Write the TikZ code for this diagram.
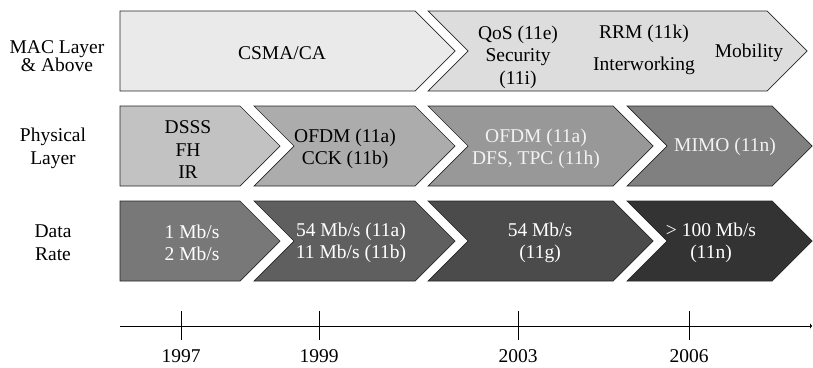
\documentclass[tikz,border=0pt]{standalone}
\usepackage{fontspec}
\setmainfont{Liberation Serif}
\usepackage{tikz}
\usetikzlibrary{arrows.meta}
\definecolor{macA}{RGB}{234,234,234}
\definecolor{macB}{RGB}{221,221,221}
\definecolor{phyA}{RGB}{194,194,194}
\definecolor{phyB}{RGB}{172,172,172}
\definecolor{phyC}{RGB}{152,152,152}
\definecolor{phyD}{RGB}{128,128,128}
\definecolor{rateA}{RGB}{120,120,120}
\definecolor{rateB}{RGB}{95,95,95}
\definecolor{rateC}{RGB}{75,75,75}
\definecolor{rateD}{RGB}{51,51,51}
\definecolor{paletext}{RGB}{242,242,242}

\begin{document}
\begin{tikzpicture}[
      x=1pt, y=-1pt,
      chev/.style={draw=black!85, line width=0.7pt, line join=miter},
      rowlabel/.style={align=center, inner sep=0pt, font=\fontsize{19.5}{23}\selectfont},
      chevtext/.style={align=center, inner sep=0pt, font=\fontsize{19.5}{22.5}\selectfont},
      year/.style={inner sep=0pt, font=\fontsize{19.5}{22}\selectfont},
      axis/.style={line width=0.7pt, black}
    ]
      \useasboundingbox (0,0) rectangle (813,367);

      % MAC layer row
      \node[rowlabel, font=\fontsize{19.5}{18.5}\selectfont] (maclbl) at (57,56) {MAC Layer\\\& Above};
      \draw[chev, fill=macA] (120,11) -- (415,11) -- (455,51) -- (415,91) -- (120,91) -- cycle;
      \draw[chev, fill=macB] (428,11) -- (767,11) -- (807,51) -- (767,91) -- (428,91) -- (468,51) -- cycle;
      \node[chevtext] (csma) at (282,53) {CSMA/CA};
      \node[chevtext] (qos) at (518,57) {QoS (11e)\\Security\\(11i)};
      \node[chevtext] (rrm) at (644,50) {RRM (11k)\\[9pt]Interworking};
      \node[chevtext] (mobility) at (749,53) {Mobility};

      % physical layer row
      \node[rowlabel] (phylbl) at (53,148) {Physical\\Layer};
      \draw[chev, fill=phyA] (120,106) -- (240,106) -- (280,146) -- (240,186) -- (120,186) -- cycle;
      \draw[chev, fill=phyB] (254,106) -- (415,106) -- (455,146) -- (415,186) -- (254,186) -- (294,146) -- cycle;
      \draw[chev, fill=phyC] (428,106) -- (613,106) -- (653,146) -- (613,186) -- (428,186) -- (468,146) -- cycle;
      \draw[chev, fill=phyD] (627,106) -- (772,106) -- (812,146) -- (772,186) -- (627,186) -- (667,146) -- cycle;
      \node[chevtext] (dsss) at (188,150) {DSSS\\FH\\IR};
      \node[chevtext] (cck) at (345,149) {OFDM (11a)\\CCK (11b)};
      \node[chevtext, text=paletext] (dfs) at (536,149) {OFDM (11a)\\DFS, TPC (11h)};
      \node[chevtext, text=paletext] (mimo) at (725,147) {MIMO (11n)};

      % data rate row
      \node[rowlabel] (ratelbl) at (53,243) {Data\\Rate};
      \draw[chev, fill=rateA] (120,201) -- (240,201) -- (280,241) -- (240,281) -- (120,281) -- cycle;
      \draw[chev, fill=rateB] (254,201) -- (415,201) -- (455,241) -- (415,281) -- (254,281) -- (294,241) -- cycle;
      \draw[chev, fill=rateC] (428,201) -- (613,201) -- (653,241) -- (613,281) -- (428,281) -- (468,241) -- cycle;
      \draw[chev, fill=rateD] (627,201) -- (772,201) -- (812,241) -- (772,281) -- (627,281) -- (667,241) -- cycle;
      \node[chevtext, text=white] (rate1) at (192,243) {1 Mb/s\\2 Mb/s};
      \node[chevtext, text=white] (rate2) at (351,243) {54 Mb/s (11a)\\11 Mb/s (11b)};
      \node[chevtext, text=white] (rate3) at (540,243) {54 Mb/s\\(11g)};
      \node[chevtext, text=white] (rate4) at (711,243) {> 100 Mb/s\\(11n)};

      % time axis
      \coordinate (axstart) at (120,326);
      \coordinate (axend) at (812,326);
      \draw[axis, -{Latex[length=2pt,width=6pt]}] (axstart) -- (axend);
      \draw[axis] (181,311) -- (181,340);
      \draw[axis] (319,311) -- (319,340);
      \draw[axis] (518,311) -- (518,340);
      \draw[axis] (689,311) -- (689,340);
      \node[year, anchor=base] (y1997) at (181,362) {1997};
      \node[year, anchor=base] (y1999) at (319,362) {1999};
      \node[year, anchor=base] (y2003) at (518,362) {2003};
      \node[year, anchor=base] (y2006) at (689,362) {2006};
    \end{tikzpicture}
\end{document}
